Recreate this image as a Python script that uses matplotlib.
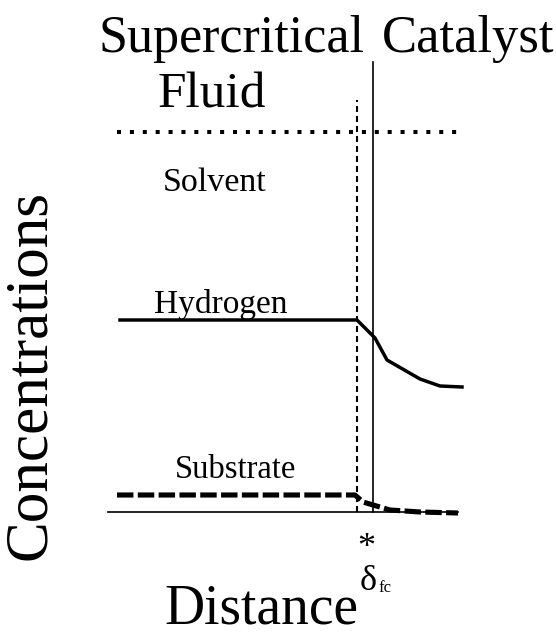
import matplotlib
matplotlib.use("Agg")
import matplotlib.pyplot as plt

# Data (distance in arbitrary units, concentration above baseline)
solvent_x = [117, 458]
solvent_y = [380, 380]

hydrogen_x = [120, 357, 375, 387, 420, 440, 462]
hydrogen_y = [192, 192, 174, 152, 133, 126, 125]

substrate_x = [117, 355, 363, 390, 420, 458]
substrate_y = [17, 17, 10, 2, 0, -1]

interface_fluid_x = 357
interface_cat_x = 373
axis_x = [108, 458]

plt.rcParams['font.family'] = ['Liberation Serif', 'DejaVu Serif']

fig = plt.figure(figsize=(5.56, 6.36), dpi=100)
ax = fig.add_axes([0, 0, 1, 1])
ax.set_xlim(0, 556)
ax.set_ylim(-124, 512)
ax.axis('off')

# baseline
ax.plot(axis_x, [0, 0], color='black', lw=1.2)
# vertical lines
ax.plot([interface_cat_x, interface_cat_x], [0, 450], color='black', lw=1.2)
ax.plot([interface_fluid_x, interface_fluid_x], [0, 412], color='black', lw=1.5, dashes=(2.9, 1.9))

# series
ax.plot(solvent_x, solvent_y, color='black', lw=2.9, dashes=(1, 2.2))
ax.plot(hydrogen_x, hydrogen_y, color='black', lw=2.5)
ax.plot(substrate_x, substrate_y, color='black', lw=3.7, dashes=(3.2, 0.85))

# texts
ax.text(232, 473, 'Supercritical', fontsize=37.5, ha='center', va='center')
ax.text(212, 417, 'Fluid', fontsize=37, ha='center', va='center')
ax.text(468, 473, 'Catalyst', fontsize=38, ha='center', va='center')
ax.text(215, 329, 'Solvent', fontsize=24.5, ha='center', va='center')
ax.text(221, 207, 'Hydrogen', fontsize=24, ha='center', va='center')
ax.text(236, 42, 'Substrate', fontsize=23.5, ha='center', va='center')
ax.text(30, 137, 'Concentrations', fontsize=44, ha='center', va='center', rotation=90)
ax.text(261, -111, 'Distance', fontsize=40, ha='center', va='baseline')
ax.text(366, -45, '*', fontsize=26, ha='center', va='baseline')
ax.text(377, -78, 'δ', fontsize=26, ha='right', va='baseline')
ax.text(378, -80, 'fc', fontsize=12, ha='left', va='baseline')

fig.savefig('out.png', dpi=100)
